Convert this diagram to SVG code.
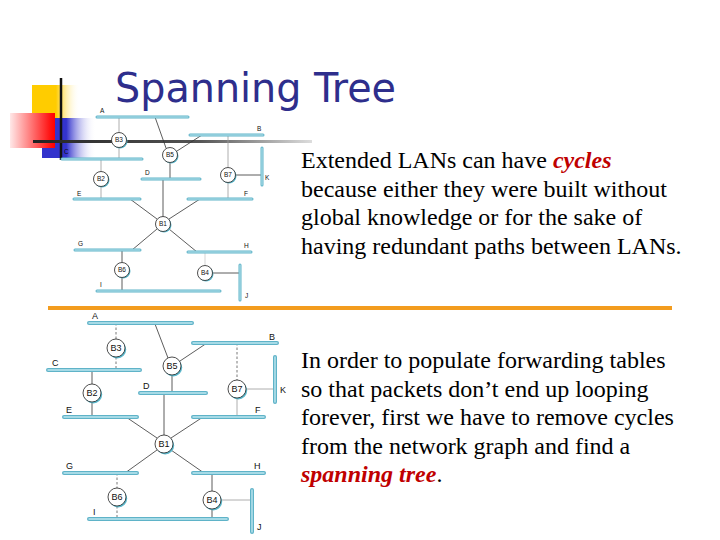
<svg xmlns="http://www.w3.org/2000/svg" width="720" height="540" viewBox="0 0 720 540">
<defs>
<linearGradient id="gY" x1="0" y1="0" x2="1" y2="0"><stop offset="0" stop-color="#FFCC00"/><stop offset="0.5" stop-color="#FFCC00"/><stop offset="1" stop-color="#FFFFFF" stop-opacity="0"/></linearGradient>
<linearGradient id="gB" x1="0" y1="0" x2="1" y2="0"><stop offset="0" stop-color="#3333CC"/><stop offset="0.45" stop-color="#3333CC"/><stop offset="1" stop-color="#FFFFFF" stop-opacity="0"/></linearGradient>
<linearGradient id="gR" x1="0" y1="0" x2="1" y2="0"><stop offset="0" stop-color="#FFE8E8"/><stop offset="0.9" stop-color="#FF1010"/><stop offset="1" stop-color="#FF0000"/></linearGradient>
<linearGradient id="gL" x1="33" y1="0" x2="312" y2="0" gradientUnits="userSpaceOnUse"><stop offset="0" stop-color="#222222"/><stop offset="0.6" stop-color="#555555"/><stop offset="1" stop-color="#DDDDDD"/></linearGradient>
<style>
.lan{stroke:#5FB3C8;stroke-linecap:round;fill:none}
.lanin{stroke:#BFE7F0;stroke-linecap:round;fill:none}
.t .lan{stroke-width:3}
.t .lanin{stroke-width:1}
.b .lan{stroke-width:4}
.b .lanin{stroke-width:1.4}
.c{stroke:#333;stroke-width:0.8;fill:none}
.g{stroke:#999;stroke-width:0.8;fill:none}
.d{stroke:#555;stroke-width:0.8;stroke-dasharray:2.5 2;fill:none}
.sh{fill:#5BB8CC}
.br{fill:#fff;stroke:#222;stroke-width:0.8}
.lbl{font-family:"Liberation Sans",Arial,sans-serif;fill:#111}
.t .lbl{font-size:6.5px}
.b .lbl{font-size:9px}
.body{font-family:"Liberation Serif","Times New Roman",serif;font-size:24px;fill:#000}
.em{fill:#C00000;font-weight:bold;font-style:italic}
</style>
</defs>
<rect width="720" height="540" fill="#fff"/>
<!-- logo -->
<g id="logo">
<rect x="32" y="85" width="48" height="33" fill="url(#gY)"/>
<rect x="42" y="118" width="54" height="40" fill="url(#gB)"/>
<rect x="10" y="113" width="45" height="35" fill="url(#gR)"/>
<line x1="61" y1="78" x2="61" y2="160" stroke="#111" stroke-width="2.5"/>
<line x1="33" y1="141.5" x2="312" y2="141.5" stroke="url(#gL)" stroke-width="3"/>
</g>
<text x="115" y="102" font-family="'DejaVu Sans Condensed','DejaVu Sans',Verdana,sans-serif" font-size="40" fill="#2E2E8C" textLength="281" lengthAdjust="spacingAndGlyphs">Spanning Tree</text>
<rect x="48" y="306" width="624" height="4" fill="#F39C1E"/>

<!-- top diagram -->
<g class="t">
<g id="top-connectors">
<line class="g" x1="119" y1="117" x2="119" y2="132.5"/>
<line class="g" x1="119" y1="147.5" x2="119" y2="159"/>
<line class="c" x1="155" y1="117" x2="166" y2="148"/>
<line class="c" x1="177" y1="151" x2="202" y2="135"/>
<line class="c" x1="170" y1="162.5" x2="170" y2="179"/>
<line class="g" x1="101" y1="159" x2="101" y2="171.5"/>
<line class="g" x1="101" y1="186.5" x2="101" y2="199"/>
<line class="g" x1="228" y1="135" x2="228" y2="167.5"/>
<line class="g" x1="228" y1="182.5" x2="228" y2="199"/>
<line class="c" x1="235.5" y1="175" x2="262" y2="175"/>
<line class="c" x1="163" y1="179" x2="163" y2="216.5"/>
<line class="c" x1="130" y1="199" x2="157" y2="219"/>
<line class="c" x1="200" y1="199" x2="169" y2="219"/>
<line class="c" x1="157" y1="229" x2="132" y2="250"/>
<line class="c" x1="169" y1="229" x2="197" y2="252"/>
<line class="c" x1="122" y1="250" x2="122" y2="262.5"/>
<line class="c" x1="122" y1="277.5" x2="122" y2="291"/>
<line class="g" x1="205" y1="252" x2="205" y2="265.5" stroke-opacity="0.5"/>
<line class="c" x1="212.5" y1="273" x2="240" y2="273"/>
</g>
<g id="top-lanA"><line class="lan" x1="97" y1="117" x2="188" y2="117"/><line class="lanin" x1="97" y1="117" x2="188" y2="117"/><text class="lbl" x="100" y="113">A</text></g>
<g id="top-lanB"><line class="lan" x1="190" y1="135" x2="263" y2="135"/><line class="lanin" x1="190" y1="135" x2="263" y2="135"/><text class="lbl" x="257" y="131">B</text></g>
<g id="top-lanC"><line class="lan" x1="62" y1="159" x2="142" y2="159"/><line class="lanin" x1="62" y1="159" x2="142" y2="159"/><text class="lbl" x="64" y="154">C</text></g>
<g id="top-lanD"><line class="lan" x1="142" y1="179" x2="200" y2="179"/><line class="lanin" x1="142" y1="179" x2="200" y2="179"/><text class="lbl" x="145" y="175">D</text></g>
<g id="top-lanE"><line class="lan" x1="74" y1="199" x2="140" y2="199"/><line class="lanin" x1="74" y1="199" x2="140" y2="199"/><text class="lbl" x="77" y="196">E</text></g>
<g id="top-lanF"><line class="lan" x1="188" y1="199" x2="252" y2="199"/><line class="lanin" x1="188" y1="199" x2="252" y2="199"/><text class="lbl" x="244" y="196">F</text></g>
<g id="top-lanG"><line class="lan" x1="75" y1="250" x2="140" y2="250"/><line class="lanin" x1="75" y1="250" x2="140" y2="250"/><text class="lbl" x="78" y="246">G</text></g>
<g id="top-lanH"><line class="lan" x1="188" y1="252" x2="251" y2="252"/><line class="lanin" x1="188" y1="252" x2="251" y2="252"/><text class="lbl" x="244" y="248">H</text></g>
<g id="top-lanI"><line class="lan" x1="97" y1="291" x2="220" y2="291"/><line class="lanin" x1="97" y1="291" x2="220" y2="291"/><text class="lbl" x="100" y="287">I</text></g>
<g id="top-lanK"><line class="lan" x1="262" y1="148" x2="262" y2="185"/><line class="lanin" x1="262" y1="148" x2="262" y2="185"/><text class="lbl" x="265" y="180">K</text></g>
<g id="top-lanJ"><line class="lan" x1="240" y1="265" x2="240" y2="300"/><line class="lanin" x1="240" y1="265" x2="240" y2="300"/><text class="lbl" x="245" y="298">J</text></g>
<g id="top-B3"><circle class="sh" cx="120" cy="141" r="7.5"/><circle class="br" cx="119" cy="140" r="7.5"/><text class="lbl" x="119" y="142.3" text-anchor="middle">B3</text></g>
<g id="top-B5"><circle class="sh" cx="171" cy="156" r="7.5"/><circle class="br" cx="170" cy="155" r="7.5"/><text class="lbl" x="170" y="157.3" text-anchor="middle">B5</text></g>
<g id="top-B2"><circle class="sh" cx="102" cy="180" r="7.5"/><circle class="br" cx="101" cy="179" r="7.5"/><text class="lbl" x="101" y="181.3" text-anchor="middle">B2</text></g>
<g id="top-B7"><circle class="sh" cx="229" cy="176" r="7.5"/><circle class="br" cx="228" cy="175" r="7.5"/><text class="lbl" x="228" y="177.3" text-anchor="middle">B7</text></g>
<g id="top-B1"><circle class="sh" cx="164" cy="225" r="7.5"/><circle class="br" cx="163" cy="224" r="7.5"/><text class="lbl" x="163" y="226.3" text-anchor="middle">B1</text></g>
<g id="top-B6"><circle class="sh" cx="123" cy="271" r="7.5"/><circle class="br" cx="122" cy="270" r="7.5"/><text class="lbl" x="122" y="272.3" text-anchor="middle">B6</text></g>
<g id="top-B4"><circle class="sh" cx="206" cy="274" r="7.5"/><circle class="br" cx="205" cy="273" r="7.5"/><text class="lbl" x="205" y="275.3" text-anchor="middle">B4</text></g>
</g>

<!-- bottom diagram -->
<g class="b">
<g id="bottom-connectors">
<line class="d" x1="116" y1="323" x2="116" y2="339"/>
<line class="d" x1="116" y1="357" x2="116" y2="370"/>
<line class="c" x1="155" y1="324" x2="168" y2="358"/>
<line class="c" x1="180" y1="361" x2="207" y2="343"/>
<line class="c" x1="172" y1="375" x2="172" y2="393"/>
<line class="c" x1="92" y1="370" x2="92" y2="384" stroke-width="1.2"/>
<line class="c" x1="92" y1="402" x2="92" y2="417" stroke-width="1.2"/>
<line class="d" x1="237" y1="343" x2="237" y2="380"/>
<line class="g" x1="237" y1="398" x2="237" y2="417" stroke="#777"/>
<line class="g" x1="246" y1="389" x2="275" y2="389" stroke="#777"/>
<line class="c" x1="164" y1="393" x2="164" y2="435" stroke-width="1.2"/>
<line class="c" x1="126" y1="417" x2="157" y2="438"/>
<line class="c" x1="203" y1="417" x2="171" y2="438"/>
<line class="c" x1="157" y1="450" x2="125" y2="473"/>
<line class="c" x1="171" y1="450" x2="204" y2="473"/>
<line class="d" x1="117" y1="473" x2="117" y2="488" stroke="#222" stroke-width="1.1"/>
<line class="d" x1="117" y1="506" x2="117" y2="519"/>
<line class="c" x1="212" y1="473" x2="212" y2="491" stroke-width="1.2"/>
<line class="c" x1="212" y1="509" x2="212" y2="519" stroke-width="1.2"/>
<line class="g" x1="221" y1="500" x2="252" y2="500" stroke="#777"/>
</g>
<g id="lanA"><line class="lan" x1="89" y1="323" x2="192" y2="323"/><line class="lanin" x1="89" y1="323" x2="192" y2="323"/><text class="lbl" x="92" y="319">A</text></g>
<g id="lanB"><line class="lan" x1="193" y1="343" x2="277" y2="343"/><line class="lanin" x1="193" y1="343" x2="277" y2="343"/><text class="lbl" x="269" y="340">B</text></g>
<g id="lanC"><line class="lan" x1="48" y1="370" x2="140" y2="370"/><line class="lanin" x1="48" y1="370" x2="140" y2="370"/><text class="lbl" x="52" y="366">C</text></g>
<g id="lanD"><line class="lan" x1="140" y1="393" x2="206" y2="393"/><line class="lanin" x1="140" y1="393" x2="206" y2="393"/><text class="lbl" x="143" y="389">D</text></g>
<g id="lanE"><line class="lan" x1="64" y1="417" x2="137" y2="417"/><line class="lanin" x1="64" y1="417" x2="137" y2="417"/><text class="lbl" x="66" y="413">E</text></g>
<g id="lanF"><line class="lan" x1="193" y1="417" x2="264" y2="417"/><line class="lanin" x1="193" y1="417" x2="264" y2="417"/><text class="lbl" x="255" y="413">F</text></g>
<g id="lanG"><line class="lan" x1="64" y1="473" x2="137" y2="473"/><line class="lanin" x1="64" y1="473" x2="137" y2="473"/><text class="lbl" x="66" y="469">G</text></g>
<g id="lanH"><line class="lan" x1="193" y1="473" x2="264" y2="473"/><line class="lanin" x1="193" y1="473" x2="264" y2="473"/><text class="lbl" x="254" y="469">H</text></g>
<g id="lanI"><line class="lan" x1="89" y1="519" x2="227" y2="519"/><line class="lanin" x1="89" y1="519" x2="227" y2="519"/><text class="lbl" x="93" y="515">I</text></g>
<g id="lanK"><line class="lan" x1="275" y1="357" x2="275" y2="402"/><line class="lanin" x1="275" y1="357" x2="275" y2="402"/><text class="lbl" x="280" y="393">K</text></g>
<g id="lanJ"><line class="lan" x1="252" y1="490" x2="252" y2="532"/><line class="lanin" x1="252" y1="490" x2="252" y2="532"/><text class="lbl" x="257" y="530">J</text></g>
<g id="B3"><circle class="sh" cx="117.2" cy="349.5" r="9"/><circle class="br" cx="116" cy="348" r="9"/><text class="lbl" x="116" y="351.2" text-anchor="middle">B3</text></g>
<g id="B5"><circle class="sh" cx="173.2" cy="367.5" r="9"/><circle class="br" cx="172" cy="366" r="9"/><text class="lbl" x="172" y="369.2" text-anchor="middle">B5</text></g>
<g id="B2"><circle class="sh" cx="93.2" cy="394.5" r="9"/><circle class="br" cx="92" cy="393" r="9"/><text class="lbl" x="92" y="396.2" text-anchor="middle">B2</text></g>
<g id="B7"><circle class="sh" cx="238.2" cy="390.5" r="9"/><circle class="br" cx="237" cy="389" r="9"/><text class="lbl" x="237" y="392.2" text-anchor="middle">B7</text></g>
<g id="B1"><circle class="sh" cx="165.2" cy="445.5" r="9"/><circle class="br" cx="164" cy="444" r="9"/><text class="lbl" x="164" y="447.2" text-anchor="middle">B1</text></g>
<g id="B6"><circle class="sh" cx="118.2" cy="498.5" r="9"/><circle class="br" cx="117" cy="497" r="9"/><text class="lbl" x="117" y="500.2" text-anchor="middle">B6</text></g>
<g id="B4"><circle class="sh" cx="213.2" cy="501.5" r="9"/><circle class="br" cx="212" cy="500" r="9"/><text class="lbl" x="212" y="503.2" text-anchor="middle">B4</text></g>
</g>

<!-- text -->
<text class="body" x="301" y="168">Extended LANs can have <tspan class="em">cycles</tspan></text>
<text class="body" x="301" y="197">because either they were built without</text>
<text class="body" x="301" y="225">global knowledge or for the sake of</text>
<text class="body" x="301" y="254">having redundant paths between LANs.</text>
<text class="body" x="301" y="368">In order to populate forwarding tables</text>
<text class="body" x="301" y="397">so that packets don’t end up looping</text>
<text class="body" x="301" y="425">forever, first we have to remove cycles</text>
<text class="body" x="301" y="454">from the network graph and find a</text>
<text class="body" x="301" y="482"><tspan class="em">spanning tree</tspan>.</text>
</svg>
